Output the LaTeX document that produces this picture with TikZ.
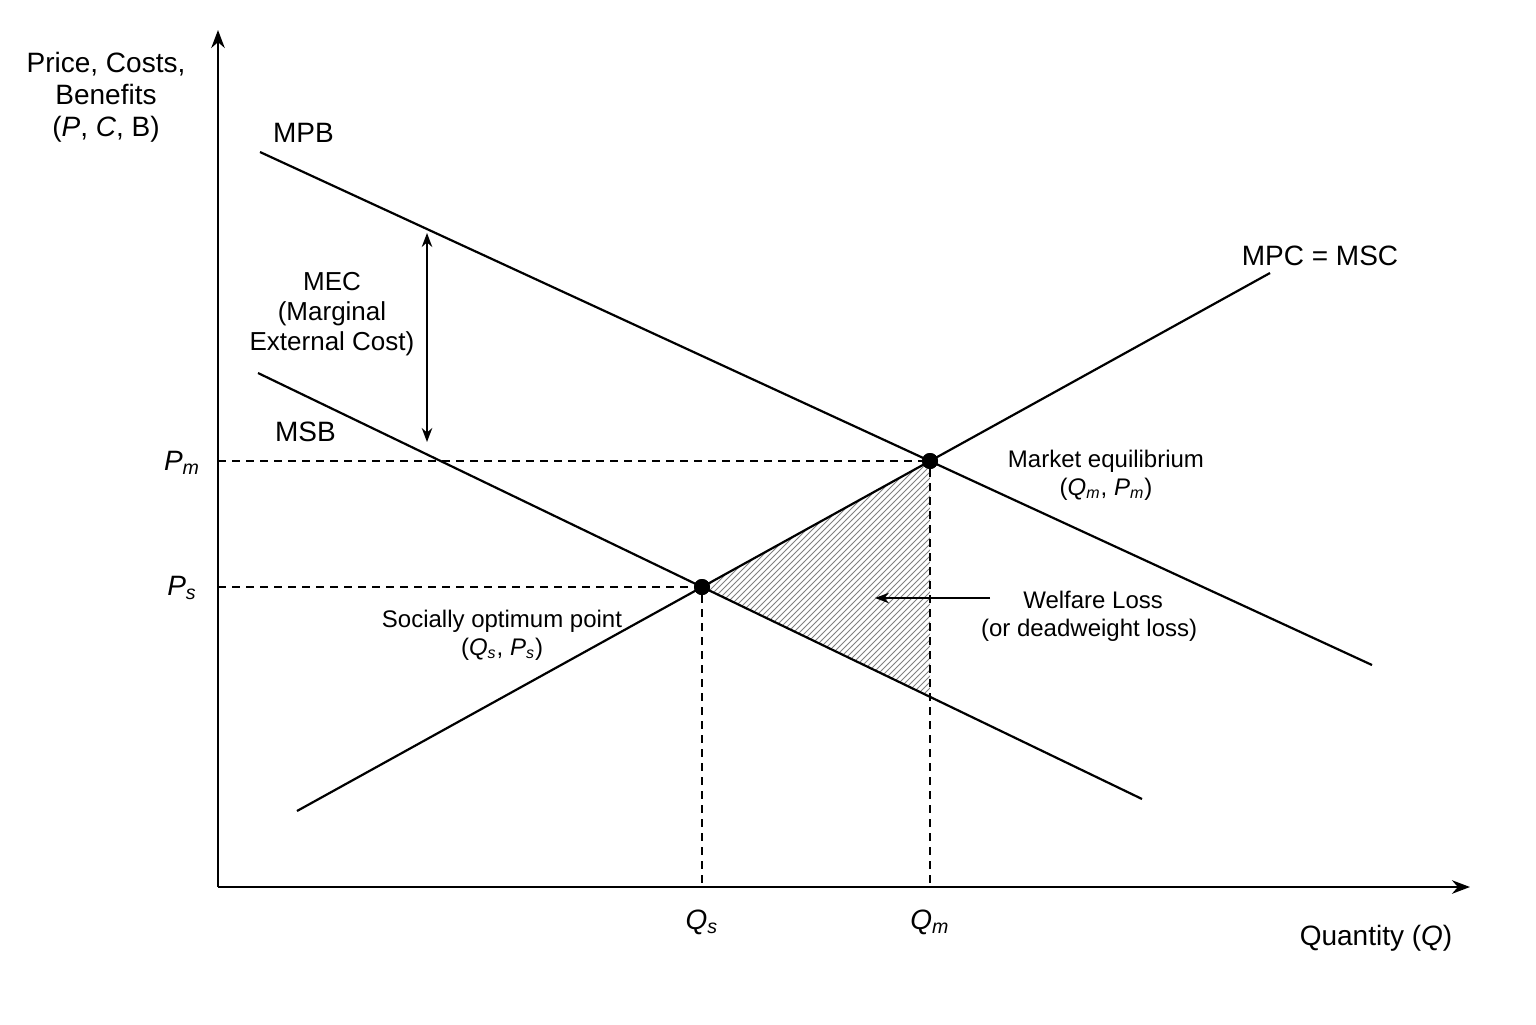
\documentclass[tikz,border=0pt]{standalone}
\usepackage{fontspec}
\setmainfont{Liberation Sans}
\usetikzlibrary{patterns,arrows.meta}
\begin{document}
\begin{tikzpicture}[x=0.5pt,y=-0.5pt]
	\tikzstyle{curve}=[line width=1.1pt]
	\tikzstyle{guide}=[dashed,line width=0.8pt,dash pattern=on 4pt off 3pt]
	\tikzstyle{lbl}=[font=\fontsize{14}{16}\selectfont,align=center]
	\tikzstyle{small}=[font=\fontsize{12}{14}\selectfont,align=center]
	\tikzstyle{dot}=[circle,fill=black,inner sep=0pt,minimum size=8pt]
	\useasboundingbox (0,0) rectangle (1536,1024);
	% points
	\coordinate (O) at (218,887);
	\coordinate (ytop) at (218,30);
	\coordinate (xend) at (1470,887);
	\node[dot] (E) at (930,461) {};
	\node[dot] (S) at (702,587) {};
	\coordinate (L) at (930,697);
	\coordinate (Pm) at (218,461);
	\coordinate (Ps) at (218,587);
	\coordinate (Qm) at (930,887);
	\coordinate (Qs) at (702,887);
	\coordinate (mpb1) at (260,152);
	\coordinate (mpb2) at (1372,665);
	\coordinate (msb1) at (258,373);
	\coordinate (msb2) at (1142,799);
	\coordinate (mpc1) at (297,811);
	\coordinate (mpc2) at (1270,273);
	\coordinate (mec1) at (427,233);
	\coordinate (mec2) at (427,442);
	\coordinate (wl1) at (990,598);
	\coordinate (wl2) at (875,598);
	% welfare loss
	\fill[pattern=north east lines,pattern color=gray] (S.center) -- (E.center) -- (L) -- cycle;
	% guides
	\draw[guide] (Pm) -- (E);
	\draw[guide] (E) -- (Qm);
	\draw[guide] (Ps) -- (S);
	\draw[guide] (S) -- (Qs);
	% curves
	\draw[curve] (mpb1) -- (mpb2);
	\draw[curve] (msb1) -- (msb2);
	\draw[curve] (mpc1) -- (mpc2);
	% axes
	\draw[curve,-{Stealth[length=9pt]}] (O) -- (ytop);
	\draw[curve,-{Stealth[length=9pt]}] (O) -- (xend);
	\draw[line width=0.9pt,{Stealth[length=7pt]}-{Stealth[length=7pt]}] (mec1) -- (mec2);
	\draw[line width=0.9pt,-{Stealth[length=7pt]}] (wl1) -- (wl2);
	\node[dot] at (E) {};
	\node[dot] at (S) {};
	% labels
	\node[lbl] (yl) at (106,97) {Price, Costs,\\Benefits\\(\textit{P}, \textit{C}, B)};
	\node[lbl] (xl) at (1376,938) {Quantity (\textit{Q})};
	\node[lbl,anchor=west] (mpbl) at (266,133) {MPB};
	\node[lbl,anchor=west] (msbl) at (268,432) {MSB};
	\node[lbl] (mpcl) at (1320,256) {MPC = MSC};
	\node[small,font=\fontsize{13}{15}\selectfont] (mecl) at (332,314) {MEC\\(Marginal\\External Cost)};
	\node[lbl] (pml) at (182,463) {\textit{P\textsubscript{m}}};
	\node[lbl] (psl) at (182,588) {\textit{P\textsubscript{s}}};
	\node[lbl] (qsl) at (702,922) {\textit{Q\textsubscript{s}}};
	\node[lbl] (qml) at (930,922) {\textit{Q\textsubscript{m}}};
	\node[small] (eql) at (1106,475) {Market equilibrium\\(\textit{Q\textsubscript{m}}, \textit{P\textsubscript{m}})};
	\node[small] (sol) at (502,635) {Socially optimum point\\(\textit{Q\textsubscript{s}}, \textit{P\textsubscript{s}})};
	\node[small,anchor=west] (wll) at (974,616) {\phantom{(}Welfare Loss\\(or deadweight loss)};
\end{tikzpicture}
\end{document}
